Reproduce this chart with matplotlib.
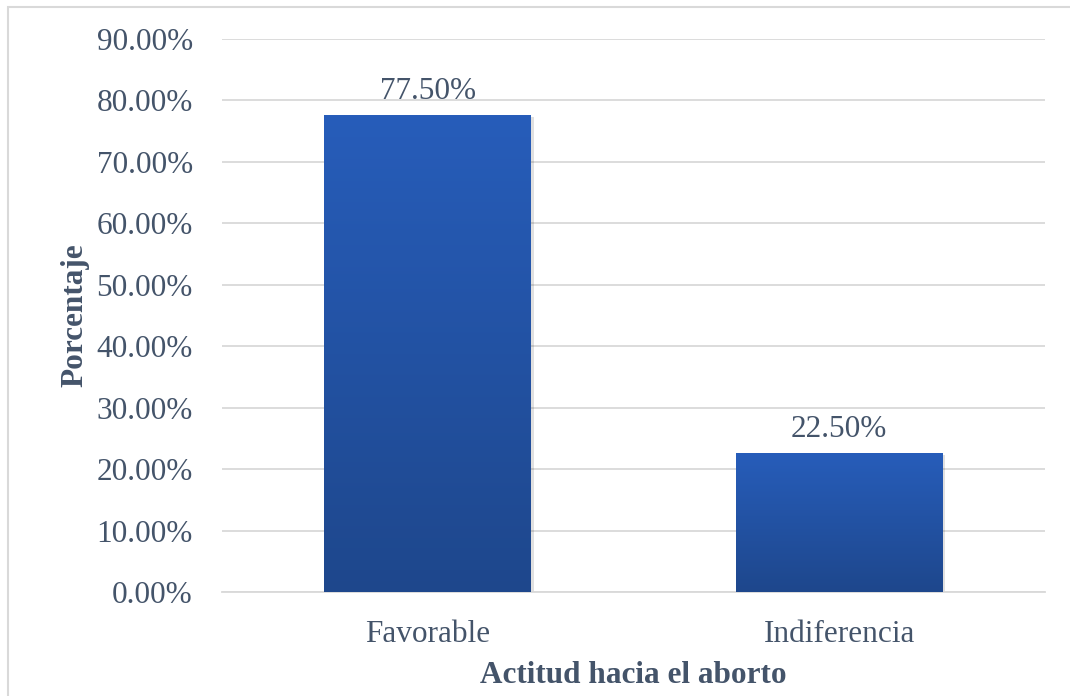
import numpy as np
import matplotlib.pyplot as plt
from matplotlib.patches import Rectangle
from matplotlib.ticker import FuncFormatter
from matplotlib.colors import LinearSegmentedColormap

categories = ['Favorable', 'Indiferencia']
values = [77.50, 22.50]
yticks = [0, 10, 20, 30, 40, 50, 60, 70, 80, 90]

text_color = '#44546A'
grid_color = '#D9D9D9'

plt.rcParams['font.family'] = ['Liberation Serif', 'DejaVu Serif']

fig = plt.figure(figsize=(10.7, 6.96), dpi=100)
ax = fig.add_axes([0.2075, 0.1494, 0.7691, 0.7946])

x = np.arange(len(categories))
width = 0.503
bars = ax.bar(x, values, width=width, color='none', zorder=3)

# vertical gradient fill for each bar
grad = np.linspace(0, 1, 256).reshape(-1, 1)
cmap = LinearSegmentedColormap.from_list('bluegrad', ['#1E478C', '#275DBA'])
for b in bars:
    x0, y0 = b.get_x(), b.get_y()
    w, h = b.get_width(), b.get_height()
    # soft shadow
    ax.add_patch(Rectangle((x0 + 0.006, y0 - 0.25), w, h, color='#000000',
                           alpha=0.12, zorder=2, lw=0))
    ax.imshow(grad, extent=[x0, x0 + w, y0, y0 + h], origin='lower',
              cmap=cmap, aspect='auto', zorder=3)
    ax.text(x0 + w / 2, h + 1.6, f'{h:.2f}%', ha='center', va='bottom',
            fontsize=22.5, color=text_color)

ax.set_xlim(-0.5, len(categories) - 0.5)
ax.set_ylim(0, 90)
ax.set_yticks(yticks)
ax.yaxis.set_major_formatter(FuncFormatter(lambda v, p: f'{v:.2f}%'))
ax.set_xticks(x)
ax.set_xticklabels(categories)
ax.tick_params(axis='both', length=0, labelsize=22.5, labelcolor=text_color)
ax.tick_params(axis='y', pad=21)
ax.tick_params(axis='x', pad=20)

ax.grid(axis='y', color=grid_color, lw=1.3, zorder=0)
for s in ['top', 'right', 'left']:
    ax.spines[s].set_visible(False)
ax.spines['bottom'].set_color(grid_color)
ax.spines['bottom'].set_linewidth(1.3)

ax.set_xlabel('Actitud hacia el aborto', fontsize=22.5, fontweight='bold',
              color=text_color, labelpad=9)
ax.set_ylabel('Porcentaje', fontsize=22.5, fontweight='bold',
              color=text_color)
ax.yaxis.set_label_coords(-0.161, 0.5)

# outer chart border
fig.add_artist(Rectangle((0.0075, -0.01), 1.0, 1.0, transform=fig.transFigure,
                         fill=False, edgecolor='#D9D9D9', lw=1.5))

fig.savefig('out.png', dpi=100)
